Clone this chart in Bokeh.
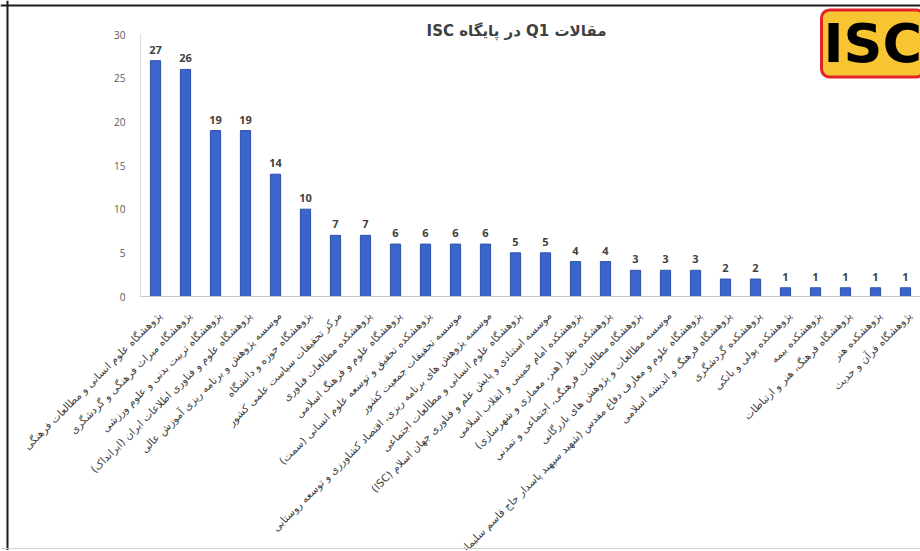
import numpy as np
from bokeh.plotting import figure
from bokeh.models import (ColumnDataSource, LabelSet, Label, Range1d, SingleIntervalTicker,
                          FixedTicker, LinearAxis, Span)
from bokeh.core.properties import value
from bokeh.embed import file_html
from bokeh.resources import INLINE

title_text = "مقالات Q1 در پایگاه ISC"

institutes = [
    "پژوهشگاه علوم انسانی و مطالعات فرهنگی",
    "پژوهشگاه میراث فرهنگی و گردشگری",
    "پژوهشگاه تربیت بدنی و علوم ورزشی",
    "پژوهشگاه علوم و فناوری اطلاعات ایران (ایرانداک)",
    "موسسه پژوهش و برنامه ریزی آموزش عالی",
    "پژوهشگاه حوزه و دانشگاه",
    "مرکز تحقیقات سیاست علمی کشور",
    "پژوهشکده مطالعات فناوری",
    "پژوهشگاه علوم و فرهنگ اسلامی",
    "پژوهشکده تحقیق و توسعه علوم انسانی (سمت)",
    "موسسه تحقیقات جمعیت کشور",
    "موسسه پژوهش های برنامه ریزی، اقتصاد کشاورزی و توسعه روستایی",
    "پژوهشگاه علوم انسانی و مطالعات اجتماعی",
    "موسسه استنادی و پایش علم و فناوری جهان اسلام (ISC)",
    "پژوهشکده امام خمینی و انقلاب اسلامی",
    "پژوهشکده نظر (هنر، معماری و شهرسازی)",
    "پژوهشگاه مطالعات فرهنگی، اجتماعی و تمدنی",
    "موسسه مطالعات و پژوهش های بازرگانی",
    "پژوهشگاه علوم و معارف دفاع مقدس (شهید سپهبد پاسدار حاج قاسم سلیمانی)",
    "پژوهشگاه فرهنگ و اندیشه اسلامی",
    "پژوهشکده گردشگری",
    "پژوهشکده پولی و بانکی",
    "پژوهشکده بیمه",
    "پژوهشگاه فرهنگ، هنر و ارتباطات",
    "پژوهشکده هنر",
    "پژوهشگاه قرآن و حدیث",
]
articles = [27, 26, 19, 19, 14, 10, 7, 7, 6, 6, 6, 6, 5, 5, 4, 4, 3, 3, 3, 2, 2, 1, 1, 1, 1, 1]
y_tick_interval = 5
y_max = 30


def rtl(s):
    return "\u202b" + s + "\u202c"


n = len(institutes)
src = ColumnDataSource(dict(
    x=list(range(n)),
    top=articles,
    name=[rtl(s) for s in institutes],
    val=[str(v) for v in articles],
))

# canvas / layout (pixels)
W, H = 920, 550
KX = 30.0                 # px per category
KY = 262.0 / y_max        # px per article
X0_PX = 155.0             # pixel of the first category centre
Y0_PX = 296.0             # pixel of the zero line

xs = -X0_PX / KX
xe = xs + W / KX
ye = Y0_PX / KY
ys = ye - H / KY


def dx(px):
    return xs + px / KX


def dy(py):
    return ye - py / KY


p = figure(width=W, height=H, output_backend="svg", toolbar_location=None,
           x_range=Range1d(xs, xe), y_range=Range1d(ys, ye),
           x_axis_location=None, y_axis_location=None, min_border=0,
           min_border_left=0, min_border_right=0, min_border_top=0, min_border_bottom=0)
p.outline_line_color = None
p.xgrid.grid_line_color = None
p.ygrid.grid_line_color = None
p.border_fill_color = "white"

p.vbar(x="x", top="top", width=0.34, source=src,
       fill_color="#3b65cc", line_color="#2d51ab", line_width=1)

xaxis = LinearAxis(fixed_location=0, ticker=FixedTicker(ticks=[]),
                   bounds=(-0.5, xe), axis_line_color="#c8c8c8",
                   major_tick_line_color=None, minor_tick_line_color=None)
p.add_layout(xaxis, "below")

yaxis = LinearAxis(fixed_location=-0.5, ticker=SingleIntervalTicker(interval=y_tick_interval),
                   bounds=(0, y_max), axis_line_color="#dcdcdc",
                   major_tick_line_color=None, minor_tick_line_color=None,
                   major_label_standoff=9, major_label_text_font="Open Sans",
                   major_label_text_font_size="10px", major_label_text_color="#595959")
p.add_layout(yaxis, "left")

p.add_layout(LabelSet(x="x", y="top", text="val", source=src, y_offset=7,
                      text_align="center", text_baseline="bottom",
                      text_font=value("Open Sans"), text_font_style="bold",
                      text_font_size="11px", text_color="#404040"))

# category names, rotated below the zero line
p.text(x="x", y=dy(Y0_PX + 17), text="name", source=src, x_offset=4,
       angle=45, angle_units="deg", text_align="right", text_baseline="middle",
       text_font=value("DejaVu Sans"), text_font_size="10.5px", text_color="#404040")

# title
p.add_layout(Label(x=dx(516), y=dy(30), text=rtl(title_text), text_align="center",
                   text_baseline="middle", text_font="DejaVu Sans",
                   text_font_style="bold", text_font_size="15px",
                   text_color="#404040"))

# logo
p.add_layout(Label(x=dx(821), y=dy(43), text="ISC", text_align="left",
                   text_baseline="middle", text_font="DejaVu Sans",
                   text_font_style="bold", text_font_size="54px",
                   text_color="black", background_fill_color="#f7c531",
                   border_line_color="#e0242a", border_line_width=3,
                   padding=2, border_radius=8))

# picture frame
p.add_layout(Span(location=dx(7), dimension="height", line_color="#1a1a1a", line_width=2))
p.add_layout(Span(location=dy(5), dimension="width", line_color="#1a1a1a", line_width=2))
p.add_layout(Span(location=dy(548), dimension="width", line_color="#cfcfcf", line_width=1))

open("out.html", "w").write(file_html(p, INLINE))
